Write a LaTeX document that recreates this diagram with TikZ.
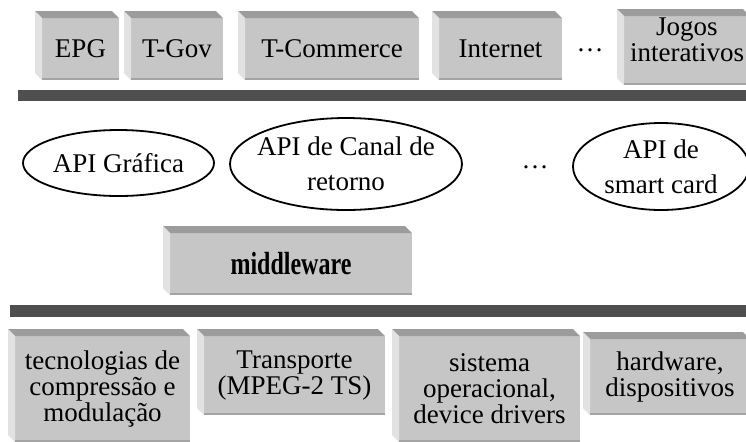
\documentclass[tikz,border=0pt]{standalone}
\usepackage{fontspec}
\setmainfont{Liberation Serif}
\usetikzlibrary{shapes.geometric}
\definecolor{frontgray}{HTML}{C6C6C6}
\definecolor{topgray}{HTML}{9C9C9C}
\definecolor{sidegray}{HTML}{E2E2E2}
\definecolor{edgegray}{HTML}{A4A4A4}
\definecolor{bargray}{HTML}{4F4F4F}
\newcommand{\lay}{\fontsize{13.5}{13}\selectfont}
\newcommand{\apifont}{\fontsize{13.5}{17.5}\selectfont}
% top and left faces of a layer box
\newcommand{\bevel}[1]{
  \fill[topgray] (#1.north west) -- ++(-3.5pt,3.5pt) -- ([shift={(-3.5pt,3.5pt)}]#1.north east) -- (#1.north east) -- cycle;
  \fill[sidegray] (#1.north west) -- ++(-3.5pt,3.5pt) -- ([shift={(-3.5pt,3.5pt)}]#1.south west) -- (#1.south west) -- cycle;
  \draw[edgegray, line width=1.2pt] ([yshift=0.6pt]#1.south west) -- ([yshift=0.6pt]#1.south east);
}

\begin{document}
\begin{tikzpicture}[x=0.5pt, y=-0.5pt,
  layer/.style={fill=frontgray, inner sep=0pt, outer sep=0pt, align=center, font=\lay},
  api/.style={ellipse, draw, line width=0.9pt, inner xsep=-25pt, inner ysep=-12pt, align=center, font=\apifont}]
  \useasboundingbox (0,0) rectangle (746,441);

  % applications
  \node[layer, minimum width=38.5pt, minimum height=31pt] (epg) at (80.5,49) {EPG};
  \node[layer, minimum width=46pt, minimum height=31pt] (tgov) at (177,49) {T-Gov};
  \node[layer, minimum width=87pt, minimum height=31pt] (tcom) at (332,49) {T-Commerce};
  \node[layer, minimum width=61.5pt, minimum height=31pt] (inet) at (500.5,49) {Internet};
  \node[font=\lay] (dots1) at (590,50) {\dots};
  \node[layer, minimum width=63pt, minimum height=34.5pt, text depth=11pt] (jogos) at (687,50.5) {Jogos\\interativos};
  \foreach \n in {epg,tgov,tcom,inet,jogos} {\bevel{\n}}
  \fill[bargray] (18,90) rectangle (750,101);

  % APIs
  \node[api, minimum width=95.5pt, minimum height=33pt] (grafica) at (118.5,163) {API Gráfica};
  \node[api, minimum width=116pt, minimum height=46pt] (canal) at (346,164) {API de Canal de\\retorno};
  \node[font=\lay] (dots2) at (535,167) {\dots};
  \node[api, minimum width=88pt, minimum height=43.5pt] (smart) at (661,166.5) {API de\\smart card};

  % middleware
  \node[layer, minimum width=121pt, minimum height=31pt, font=\fontsize{16}{18}\selectfont\bfseries] (mw) at (291,264) {\scalebox{0.75}[1]{middleware}};
  \bevel{mw}
  \fill[bargray] (10,305) rectangle (750,317);

  % base
  \node[layer, minimum width=87.5pt, minimum height=53pt] (comp) at (102.5,389) {tecnologias de\\compressão e\\modulação};
  \node[layer, minimum width=90.5pt, minimum height=39.5pt] (transp) at (294.5,375.5) {Transporte\\(MPEG-2 TS)};
  \node[layer, minimum width=90.5pt, minimum height=53pt] (so) at (489.5,389) {sistema\\operacional,\\device drivers};
  \node[layer, minimum width=80pt, minimum height=38pt] (hw) at (670,377) {hardware,\\dispositivos};
  \foreach \n in {comp,transp,so,hw} {\bevel{\n}}
\end{tikzpicture}
\end{document}
